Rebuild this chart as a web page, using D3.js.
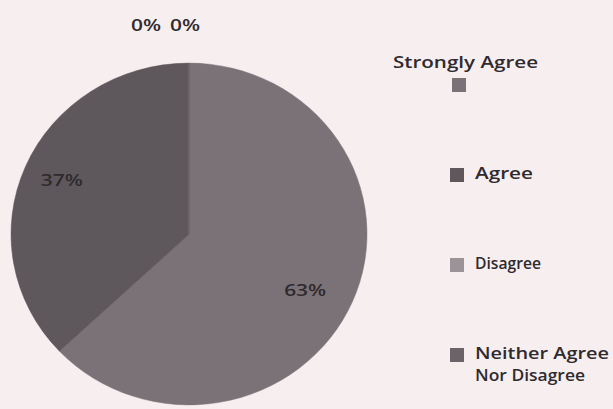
<!DOCTYPE html>
<html><head><meta charset="utf-8">
<script src="https://cdn.jsdelivr.net/npm/d3@7"></script>
<style>
html,body{margin:0;padding:0;background:#f7eef0;}
svg{display:block;}
text{font-family:"Open Sans","DejaVu Sans",sans-serif;fill:#2f2a2e;}
</style></head>
<body><svg id="c" width="613" height="409"></svg>
<script>
const categories = ["Strongly Agree", "Agree", "Disagree", "Neither Agree Nor Disagree"];
const values = [63, 37, 0, 0];
const legendLines = [["Strongly Agree"], ["Agree"], ["Disagree"], ["Neither Agree", "Nor Disagree"]];
const sliceColors = ["#7b7278", "#5e575c", "#9a9398", "#6a6368"];

const svg = d3.select("#c");
const cx = 189, cy = 234, r = 178, sy = 0.96;

// rendered widths of the legend lines (layout only)
const legendWidths = {"Strongly Agree": 145, "Agree": 58, "Disagree": 66, "Neither Agree": 134, "Nor Disagree": 110};

const pie = d3.pie().sort(null).value(d => d)(values);
const arc = d3.arc().innerRadius(0).outerRadius(r);
const labelArc = d3.arc().innerRadius(r * 0.76).outerRadius(r * 0.76);

const g = svg.append("g").attr("transform", `translate(${cx},${cy}) scale(1,${sy})`);
g.selectAll("path").data(pie).join("path")
  .attr("d", arc)
  .attr("fill", (d, i) => sliceColors[i])
  .attr("stroke", (d, i) => sliceColors[i])
  .attr("stroke-width", 0.5);

g.selectAll("line.sep").data(pie.filter(d => d.value > 0)).join("line")
  .attr("class", "sep")
  .attr("x1", 0).attr("y1", 0)
  .attr("x2", d => r * Math.sin(d.startAngle))
  .attr("y2", d => -r * Math.cos(d.startAngle))
  .attr("stroke", "#5a5358").attr("stroke-width", 1).attr("opacity", 0.5);

// labels
let zeroIdx = 0;
const pctFmt = d3.format(".0%");
pie.forEach((d, i) => {
  let x, y;
  if (d.value > 0) {
    const c = labelArc.centroid(d);
    x = cx + c[0] + (c[0] > 0 ? -8 : -3);
    y = cy + c[1] * sy + (c[0] > 0 ? 10 : 4);
  } else {
    x = cx - 43 + zeroIdx * 39; y = cy - r * sy - 32;
    zeroIdx++;
  }
  const t = pctFmt(d.value / d3.sum(values));
  svg.append("text").attr("x", x).attr("y", y)
    .attr("text-anchor", "middle")
    .attr("font-size", 16).attr("font-weight", 600)
    .attr("textLength", t.length === 2 ? 30 : 42)
    .attr("lengthAdjust", "spacingAndGlyphs")
    .text(t);
});

// legend
const lg = svg.append("g");
const legendY = d3.scaleLinear().domain([0, 3]).range([85, 355]);
legendLines.forEach((lines, i) => {
  const y = legendY(i);
  if (i === 0) {
    lg.append("rect").attr("x", 452).attr("y", y - 7).attr("width", 14).attr("height", 14).attr("fill", sliceColors[i]);
    lg.append("text").attr("x", 393).attr("y", y - 17)
      .attr("font-size", 17).attr("font-weight", 600)
      .attr("textLength", legendWidths[lines[0]]).attr("lengthAdjust", "spacingAndGlyphs")
      .text(lines[0]);
  } else {
    lg.append("rect").attr("x", 450).attr("y", y - 7).attr("width", 14).attr("height", 14).attr("fill", sliceColors[i]);
    lines.forEach((t, k) => {
      lg.append("text").attr("x", 475).attr("y", y + 4 + k * 22)
        .attr("font-size", 17).attr("font-weight", 600)
        .attr("textLength", legendWidths[t]).attr("lengthAdjust", "spacingAndGlyphs")
        .text(t);
    });
  }
});
</script></body></html>
